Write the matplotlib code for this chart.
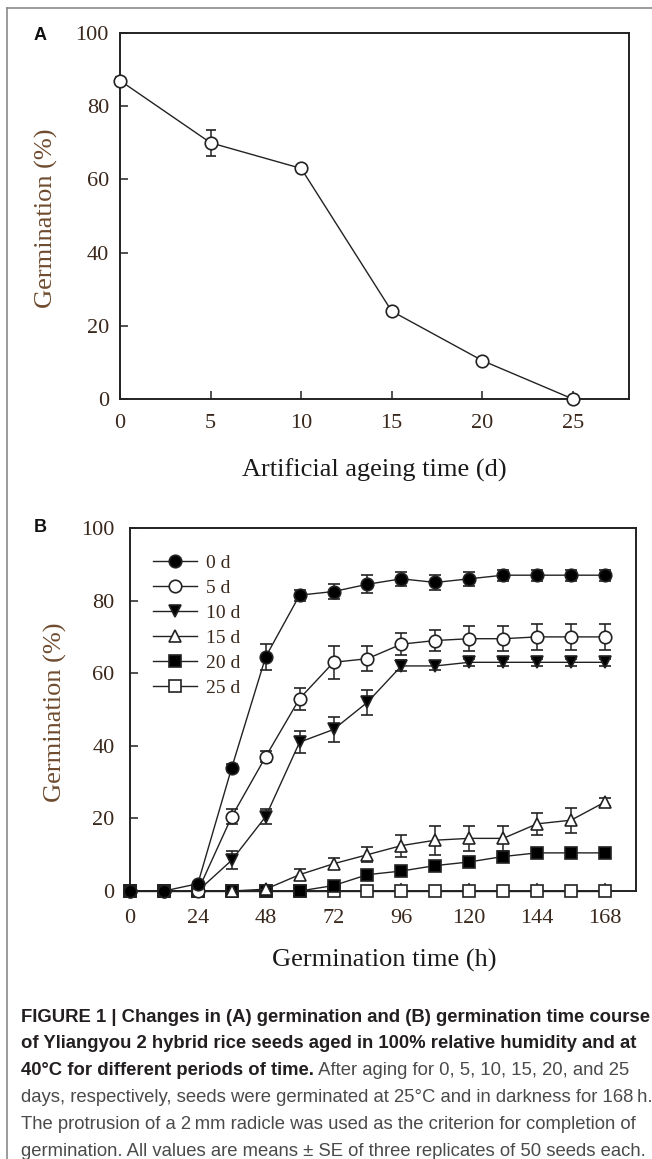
import matplotlib
matplotlib.use("Agg")
import matplotlib.pyplot as plt
from matplotlib.lines import Line2D
import numpy as np

# ---------------- data ----------------
ageing_days = [0, 5, 10, 15, 20, 25]
germ_a = [87, 70, 63, 24, 10.5, 0]
err_a = [1.0, 3.5, 0.8, 0.8, 0.8, 0.5]

hours = [0, 12, 24, 36, 48, 60, 72, 84, 96, 108, 120, 132, 144, 156, 168]
g0 = [0, 0, 2, 34, 64.5, 81.5, 82.5, 84.5, 86, 85, 86, 87, 87, 87, 87]
e0 = [0, 0, 0.5, 1, 3.5, 1.5, 2, 2.5, 2, 2, 2, 1.5, 1.5, 1.5, 1.5]
g5 = [0, 0, 0, 20.5, 37, 53, 63, 64, 68, 69, 69.5, 69.5, 70, 70, 70]
e5 = [0, 0, 0, 2, 1.5, 3, 4.5, 3.5, 3, 3, 3.5, 3.5, 3.5, 3.5, 3.5]
g10 = [0, 0, 0, 8.5, 20.5, 41, 44.5, 52, 62, 62, 63, 63, 63, 63, 63]
e10 = [0, 0, 0, 2.5, 2, 3, 3.5, 3.5, 1.5, 1, 1, 1, 1, 1, 1]
g15 = [0, 0, 0, 0, 0.5, 4.5, 7.5, 10, 12.5, 14, 14.5, 14.5, 18.5, 19.5, 24.5]
e15 = [0, 0, 0, 0, 0.5, 1.5, 1.5, 2, 3, 4, 3.5, 3.5, 3, 3.5, 1]
g20 = [0, 0, 0, 0, 0, 0, 1.5, 4.5, 5.5, 7, 8, 9.5, 10.5, 10.5, 10.5]
e20 = [0, 0, 0, 0, 0, 0, 0.5, 0.8, 0.8, 1, 1, 1, 1, 1, 1]
g25 = [0] * 15
e25 = [0.8] * 15

series_labels = ["0 d", "5 d", "10 d", "15 d", "20 d", "25 d"]
a_xticks = [0, 5, 10, 15, 20, 25]
b_xticks = [0, 24, 48, 72, 96, 120, 144, 168]
yticks = [0, 20, 40, 60, 80, 100]

W, H = 652, 1159
fig = plt.figure(figsize=(W / 100, H / 100), dpi=100)
SERIF = ["Liberation Serif", "DejaVu Serif"]
TICKC = "#3a281c"
YLABC = "#6e4b2e"


def px_axes(l, t, r, b):
    return fig.add_axes([l / W, 1 - b / H, (r - l) / W, (b - t) / H])


def style(ax, xpad, ypad):
    for s in ax.spines.values():
        s.set_linewidth(1.4)
        s.set_color("#222222")
    ax.tick_params(direction="in", length=6, width=1.1, top=False, right=False,
                   labelsize=16, colors="#222222", labelcolor=TICKC)
    ax.tick_params(axis="x", pad=xpad)
    ax.tick_params(axis="y", pad=ypad)
    for lab in ax.get_xticklabels() + ax.get_yticklabels():
        lab.set_fontfamily(SERIF)


# ---------------- panel A ----------------
axA = px_axes(120, 33, 629, 399)
axA.errorbar(ageing_days, germ_a, yerr=err_a, color="#222222", lw=1.0,
             marker="o", ms=9, mfc="white", mec="#222222", mew=1.2,
             capsize=3.5, elinewidth=1.1, capthick=1.1, clip_on=False, zorder=3)
axA.set_xlim(0, 28.1)
axA.set_ylim(0, 100)
axA.set_xticks(a_xticks)
axA.set_yticks(yticks)
style(axA, 11, 8)

fig.text(46 / W, 1 - 218 / H, "Germination (%)", rotation=90, ha="center", va="center",
         fontsize=19, family=SERIF, color=YLABC)
fig.text(374 / W, 1 - 470 / H, "Artificial ageing time (d)", ha="center", va="center",
         fontsize=19, family=SERIF, color="#1a1a1a")
fig.text(40 / W, 1 - 35 / H, "A", ha="center", va="center", fontsize=13,
         fontweight="bold", family=["Liberation Sans", "DejaVu Sans"], color="#111111")

# ---------------- panel B ----------------
axB = px_axes(130, 528, 636, 891)
styles = [
    dict(marker="o", mfc="black"),
    dict(marker="o", mfc="white"),
    dict(marker="v", mfc="black"),
    dict(marker="^", mfc="white"),
    dict(marker="s", mfc="black"),
    dict(marker="s", mfc="white"),
]
ys = [g0, g5, g10, g15, g20, g25]
es = [e0, e5, e10, e15, e20, e25]
for i in range(6):
    st = styles[i]
    axB.errorbar(hours, ys[i], yerr=es[i], color="#222222", lw=1.0,
                 marker=st["marker"], ms=9, mfc=st["mfc"], mec="#222222",
                 mew=1.2, capsize=4, elinewidth=1.1, capthick=1.1,
                 clip_on=False, zorder=3 + (5 - i) * 0.1,
                 label=series_labels[i])
axB.set_xlim(0, 179)
axB.set_ylim(0, 100)
axB.set_xticks(b_xticks)
axB.set_xticks(hours, minor=True)
axB.set_yticks(yticks)
style(axB, 13, 11)
axB.tick_params(axis="x", which="minor", direction="inout", length=5, width=1)

leg = axB.legend(handles=[Line2D([], [], color="#222222", lw=1.0,
                                 marker=styles[i]["marker"], ms=9,
                                 mfc=styles[i]["mfc"], mec="#222222", mew=1.2)
                          for i in range(6)],
                 labels=series_labels, loc="upper left",
                 bbox_to_anchor=(23 / 506, 1 - 26 / 363), frameon=False,
                 borderpad=0, borderaxespad=0, handlelength=2.25,
                 handletextpad=0.5, labelspacing=0.38,
                 prop={"family": SERIF, "size": 14})
for t in leg.get_texts():
    t.set_color(TICKC)

fig.text(55 / W, 1 - 712 / H, "Germination (%)", rotation=90, ha="center", va="center",
         fontsize=19, family=SERIF, color=YLABC)
fig.text(384 / W, 1 - 960 / H, "Germination time (h)", ha="center", va="center",
         fontsize=19, family=SERIF, color="#1a1a1a")
fig.text(40 / W, 1 - 528 / H, "B", ha="center", va="center", fontsize=13,
         fontweight="bold", family=["Liberation Sans", "DejaVu Sans"], color="#111111")

# ---------------- frame ----------------
fig.add_artist(Line2D([7 / W, 7 / W], [0, 1 - 8 / H], color="#8a8a8a", lw=1.2,
                      transform=fig.transFigure))
fig.add_artist(Line2D([7 / W, 1], [1 - 8 / H, 1 - 8 / H], color="#8a8a8a", lw=1.2,
                      transform=fig.transFigure))

# ---------------- caption ----------------
SANS = ["Liberation Sans", "DejaVu Sans"]
BOLDC = "#231f20"
NORMC = "#4a4a4a"
cap_lines = [
    [("FIGURE 1 | Changes in (A) germination and (B) germination time course", True)],
    [("of Yliangyou 2 hybrid rice seeds aged in 100% relative humidity and at", True)],
    [("40°C for different periods of time.", True),
     (" After aging for 0, 5, 10, 15, 20, and 25", False)],
    [("days, respectively, seeds were germinated at 25°C and in darkness for 168\u2009h.", False)],
    [("The protrusion of a 2\u2009mm radicle was used as the criterion for completion of", False)],
    [("germination. All values are means ± SE of three replicates of 50 seeds each.", False)],
]
renderer = fig.canvas.get_renderer()
probe = fig.text(0, 0, cap_lines[0][0][0], fontsize=13, fontweight="bold", family=SANS)
wprobe = probe.get_window_extent(renderer).width
probe.remove()
cap_size = 13 * 628 / wprobe
x0 = 21
y_first = 1017
dy = 26.8
for k, line in enumerate(cap_lines):
    x = x0
    y = y_first + k * dy
    for txt, bold in line:
        t = fig.text(x / W, 1 - y / H, txt, fontsize=cap_size, ha="left", va="center",
                     fontweight="bold" if bold else "normal", family=SANS,
                     color=BOLDC if bold else NORMC)
        x += t.get_window_extent(renderer).width

fig.savefig("out.png", dpi=100)
